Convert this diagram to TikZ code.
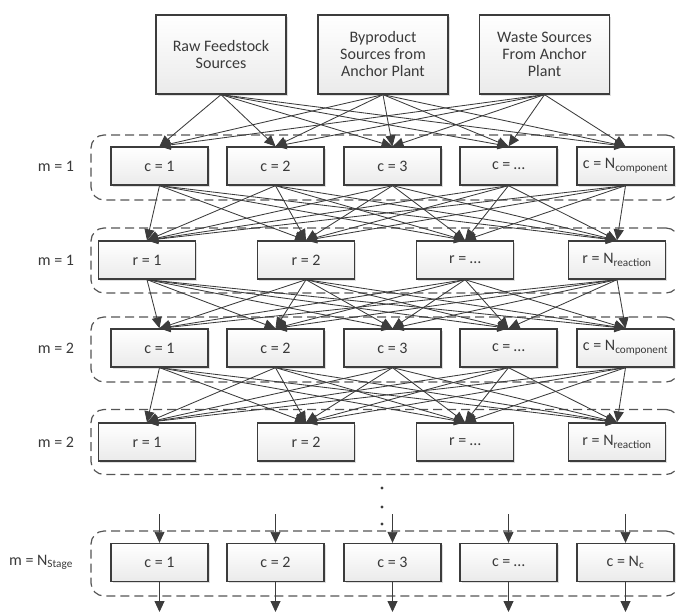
\documentclass[tikz,border=0pt]{standalone}
\usepackage{fontspec}
\setmainfont{Carlito}
\usetikzlibrary{arrows.meta,shadows}

\definecolor{linegray}{HTML}{3C3C3C}
\definecolor{textgray}{HTML}{3A3A3A}
\definecolor{dashgray}{HTML}{555555}

\tikzset{
  unitbox/.style={draw=linegray, line width=1.3pt, top color=white, bottom color=gray!16,
    minimum width=97pt, minimum height=38pt, inner sep=0pt, text=textgray,
    font=\fontsize{16}{17}\selectfont,
    drop shadow={shadow xshift=1.5pt, shadow yshift=-1.5pt, fill=gray!50, opacity=0.5}},
  sourcebox/.style={unitbox, minimum width=130pt, minimum height=79pt, align=center},
  stagebox/.style={draw=dashgray, line width=1.2pt, dash pattern=on 9pt off 5pt,
    rounded corners=13pt, minimum width=588pt, minimum height=65pt, inner sep=0pt},
  lanelabel/.style={text=textgray, font=\fontsize{16}{17}\selectfont, inner sep=0pt},
  conn/.style={draw=linegray, line width=0.85pt, -{Triangle[length=11pt,width=10pt]}}
}

\begin{document}
\begin{tikzpicture}[x=1pt,y=-1pt]
    \useasboundingbox (0,0) rectangle (676,613);

    % dashed stage frames
    \node[stagebox] (stage1) at (385,167.5) {};
    \node[stagebox] (stage2) at (385,260.5) {};
    \node[stagebox] (stage3) at (385,349.5) {};
    \node[stagebox] (stage4) at (385,442) {};
    \node[stagebox] (stage5) at (385,563.5) {};

    % sources on top
    \node[sourcebox] (src1) at (221,54.5) {Raw Feedstock\\Sources};
    \node[sourcebox] (src2) at (383,54.5) {Byproduct\\Sources from\\Anchor Plant};
    \node[sourcebox] (src3) at (544.5,54.5) {Waste Sources\\From Anchor\\Plant};

    % stage labels
    \node[lanelabel] (lab1) at (56,166) {m = 1};
    \node[lanelabel] (lab2) at (56,260) {m = 1};
    \node[lanelabel] (lab3) at (56,348) {m = 2};
    \node[lanelabel] (lab4) at (56,442) {m = 2};
    \node[lanelabel] (lab5) at (41,562.5) {m = N\textsubscript{Stage}};

    % component and reaction rows
    \foreach \x/\t [count=\i] in {159.5/1, 275.5/2, 392.5/3, 508.5/{\dots}, 625.5/{N\textsubscript{component}}} {
        \node[unitbox] (ca\i) at (\x,166) {c = \t};
        \node[unitbox] (cb\i) at (\x,348) {c = \t};
    }
    \foreach \x/\t [count=\i] in {147/1, 306/2, 465/{\dots}, 617/{N\textsubscript{reaction}}} {
        \node[unitbox] (ra\i) at (\x,260) {r = \t};
        \node[unitbox] (rb\i) at (\x,442) {r = \t};
    }
    \foreach \x/\t [count=\i] in {159.5/1, 275.5/2, 392.5/3, 508.5/{\dots}, 625.5/{N\textsubscript{c}}} {
        \node[unitbox] (cn\i) at (\x,562.5) {c = \t};
        \coordinate (cnin\i) at (\x,514);
        \coordinate (cnout\i) at (\x,612);
    }

    % connectors
    \foreach \s in {1,2,3}
        \foreach \c in {1,...,5}
            \draw[conn] (src\s.south) -- (ca\c.north);
    \foreach \c in {1,...,5}
        \foreach \r in {1,...,4} {
            \draw[conn] (ca\c.south) -- (ra\r.north);
            \draw[conn] (ra\r.south) -- (cb\c.north);
            \draw[conn] (cb\c.south) -- (rb\r.north);
        }
    \foreach \c in {1,...,5} {
        \draw[conn] (cnin\c) -- (cn\c.north);
        \draw[conn] (cn\c.south) -- (cnout\c);
    }

    % continuation dots
    \fill[linegray] (382,488) circle (1.6pt);
    \fill[linegray] (382,507) circle (1.6pt);
    \fill[linegray] (382,524) circle (1.6pt);

\end{tikzpicture}
\end{document}
